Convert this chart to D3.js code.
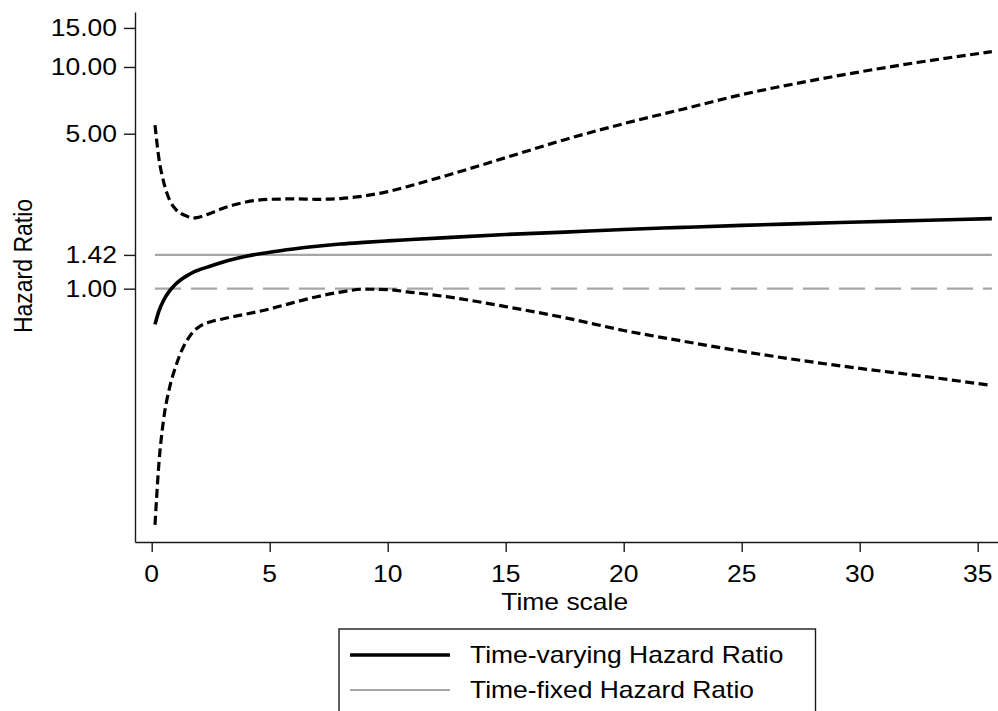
<!DOCTYPE html>
<html>
<head>
<meta charset="utf-8">
<script src="https://cdn.jsdelivr.net/npm/d3@7"></script>
<style>
  html, body { margin: 0; padding: 0; background: #fff; }
  svg { display: block; }
  text { font-family: "Liberation Sans", Arial, Helvetica, sans-serif; fill: #000; }
</style>
</head>
<body>
<svg id="chart" width="998" height="711"></svg>
<script>
// Analysis time points (years)
const timePoints = [0.14, 0.3, 0.5, 0.75, 1, 1.25, 1.5, 1.75, 2, 2.5, 3, 3.5, 4, 5, 6, 7, 8, 9, 10, 11, 12.5, 15, 17.5, 20, 22.5, 25, 27.5, 30, 32.5, 35.6];

// Time-varying hazard ratio and its confidence limits
const hrVarying = [0.69, 0.79, 0.885, 0.975, 1.045, 1.10, 1.145, 1.185, 1.215, 1.265, 1.315, 1.36, 1.40, 1.46, 1.51, 1.553, 1.59, 1.618, 1.643, 1.666, 1.70, 1.755, 1.80, 1.85, 1.89, 1.93, 1.965, 1.998, 2.03, 2.07];
const ciUpper   = [5.47, 3.9, 3.05, 2.52, 2.29, 2.18, 2.12, 2.08, 2.10, 2.19, 2.30, 2.39, 2.46, 2.53, 2.54, 2.53, 2.55, 2.62, 2.74, 2.92, 3.24, 3.9, 4.7, 5.55, 6.45, 7.5, 8.5, 9.5, 10.5, 11.72];
const ciLower   = [0.086, 0.16, 0.255, 0.355, 0.44, 0.52, 0.585, 0.638, 0.672, 0.71, 0.73, 0.75, 0.768, 0.81, 0.865, 0.92, 0.965, 0.995, 0.99, 0.963, 0.92, 0.83, 0.74, 0.648, 0.58, 0.522, 0.475, 0.437, 0.405, 0.366];

// Time-fixed hazard ratio and the null reference
const hrFixed = 1.42;
const hrNull = 1.00;

// Axis ticks
const yTickValues = [1.00, 1.42, 5.00, 10.00, 15.00];
const xTickValues = [0, 5, 10, 15, 20, 25, 30, 35];

// Legend entries
const legendLabels = ["Time-varying Hazard Ratio", "Time-fixed Hazard Ratio"];

const svg = d3.select("#chart");
const STRETCH = 1.15;
const FONT = 23;

// Text helper: glyphs are drawn slightly widened horizontally
function label(g, x, y, str, anchor, rot) {
  return g.append("text")
    .attr("transform", `translate(${x},${y}) scale(${STRETCH},1)` + (rot ? ` rotate(${rot})` : ""))
    .attr("text-anchor", anchor || "start")
    .style("font-size", FONT + "px")
    .text(str);
}

// Scales
const x0 = d3.scaleLinear().domain([0, 35]).range([151.7, 977.7]);
const x = d3.scaleLinear().domain([x0.invert(135), x0.invert(998)]).range([135, 998]);
const y = d3.scaleLog().domain([0.072, 17.7]).range([542, 12]);

const axisColor = "#1a1a1a";

// Reference lines
const tMin = timePoints[0], tMax = timePoints[timePoints.length - 1];
svg.append("line")
  .attr("x1", x(tMin)).attr("x2", x(tMax))
  .attr("y1", y(hrNull)).attr("y2", y(hrNull))
  .attr("stroke", "#a6a6a6").attr("stroke-width", 2.2)
  .attr("stroke-dasharray", "26,10");
svg.append("line")
  .attr("x1", x(tMin)).attr("x2", x(tMax))
  .attr("y1", y(hrFixed)).attr("y2", y(hrFixed))
  .attr("stroke", "#a6a6a6").attr("stroke-width", 2.2);

// Curves
const line = d3.line().x(d => x(d[0])).y(d => y(d[1])).curve(d3.curveMonotoneX);
const zip = arr => timePoints.map((t, i) => [t, arr[i]]);

[ciUpper, ciLower].forEach(arr => {
  svg.append("path").datum(zip(arr))
    .attr("d", line).attr("fill", "none")
    .attr("stroke", "#000").attr("stroke-width", 3.2)
    .attr("stroke-dasharray", "9,4.5");
});
svg.append("path").datum(zip(hrVarying))
  .attr("d", line).attr("fill", "none")
  .attr("stroke", "#000").attr("stroke-width", 3.6);

// Axes
const gx = svg.append("g").attr("transform", "translate(0,542)")
  .call(d3.axisBottom(x).tickValues(xTickValues).tickSize(10).tickSizeOuter(0).tickFormat(""));
gx.select(".domain").attr("stroke", axisColor).attr("stroke-width", 1.4);
gx.selectAll(".tick line").attr("stroke", axisColor).attr("stroke-width", 1.4);

const gy = svg.append("g").attr("transform", "translate(135,0)")
  .call(d3.axisLeft(y).tickValues(yTickValues).tickSize(11).tickSizeOuter(0).tickFormat(""));
gy.select(".domain").attr("stroke", axisColor).attr("stroke-width", 1.4);
gy.selectAll(".tick line").attr("stroke", axisColor).attr("stroke-width", 1.4);

// Tick labels
const labels = svg.append("g");
xTickValues.forEach(v => label(labels, x(v), 582, d3.format("d")(v), "middle"));
yTickValues.forEach(v => label(labels, 117, y(v) + 8.3, d3.format(".2f")(v), "end"));

// Axis titles
label(labels, x(17.5), 610, "Time scale", "middle");
label(labels, 32, 266, "Hazard Ratio", "middle", -90);

// Legend
const lg = svg.append("g");
lg.append("rect")
  .attr("x", 339).attr("y", 629).attr("width", 476.5).attr("height", 120)
  .attr("fill", "#fff").attr("stroke", axisColor).attr("stroke-width", 1.4);
lg.append("line").attr("x1", 350).attr("x2", 450).attr("y1", 655).attr("y2", 655)
  .attr("stroke", "#000").attr("stroke-width", 3.6);
lg.append("line").attr("x1", 350).attr("x2", 450).attr("y1", 690).attr("y2", 690)
  .attr("stroke", "#a6a6a6").attr("stroke-width", 2.2);
label(lg, 470, 663, legendLabels[0], "start");
label(lg, 470, 698, legendLabels[1], "start");
</script>
</body>
</html>
